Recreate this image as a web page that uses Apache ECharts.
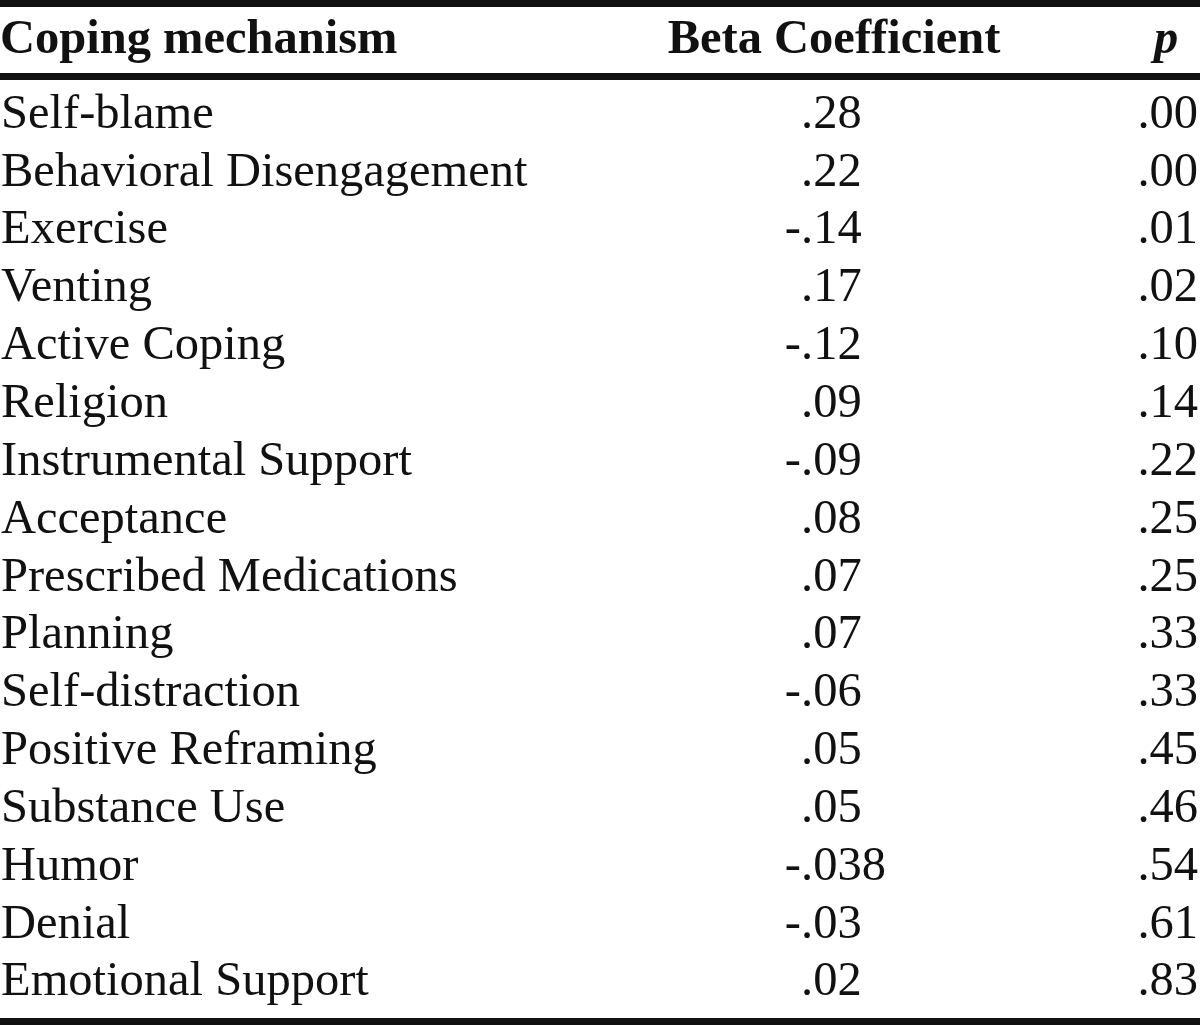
<!DOCTYPE html>
<html>
<head>
<meta charset="utf-8">
<script src="https://cdn.jsdelivr.net/npm/echarts@6/dist/echarts.min.js"></script>
<style>html,body{margin:0;padding:0;background:#fff}#c{width:1200px;height:1026px}</style>
</head>
<body>
<div id="c"></div>
<script>
// ---- data ----
var headers = ['Coping mechanism', 'Beta Coefficient', 'p'];
var mechanisms = ['Self-blame', 'Behavioral Disengagement', 'Exercise', 'Venting', 'Active Coping',
  'Religion', 'Instrumental Support', 'Acceptance', 'Prescribed Medications', 'Planning',
  'Self-distraction', 'Positive Reframing', 'Substance Use', 'Humor', 'Denial', 'Emotional Support'];
var beta = [0.28, 0.22, -0.14, 0.17, -0.12, 0.09, -0.09, 0.08, 0.07, 0.07, -0.06, 0.05, 0.05, -0.038, -0.03, 0.02];
var pValues = [0.00, 0.00, 0.01, 0.02, 0.10, 0.14, 0.22, 0.25, 0.25, 0.33, 0.33, 0.45, 0.46, 0.54, 0.61, 0.83];

// ---- layout ----
var W = 1200, H = 1026;
var rowPx = 57.85, firstRowPx = 115;
var yMin = -firstRowPx / rowPx, yMax = (H - firstRowPx) / rowPx;
var headerRow = (40 - firstRowPx) / rowPx;
var rules = [{ y: (3.5 - firstRowPx) / rowPx }, { y: (76.5 - firstRowPx) / rowPx }, { y: (1021.5 - firstRowPx) / rowPx }];
var colName = 1, colDot = 801, colP = 1198, colBetaHead = 834, colPHead = 1166;
var FONT = '"Liberation Serif","Times New Roman",serif';
var INK = '#111';
var FS = 48.5;

function fmtBeta(v) { return String(v).replace('0.', '.'); }
function fmtP(v) { return v.toFixed(2).replace(/^0/, ''); }

function textSeries(data, align, opts) {
  opts = opts || {};
  return {
    type: 'scatter', symbolSize: 0, silent: true, animation: false,
    itemStyle: { opacity: 1 },
    data: data,
    label: Object.assign({
      show: true, position: 'inside', align: align, verticalAlign: 'middle',
      fontFamily: FONT, fontSize: FS, color: INK, opacity: 1,
      formatter: function (p) { return p.data.t; }
    }, opts)
  };
}

var nameData = mechanisms.map(function (m, i) { return { value: [colName, i], t: m }; });
var fracData = beta.map(function (b, i) { return { value: [colDot, i], t: fmtBeta(Math.abs(b)) }; });
var signData = beta.map(function (b, i) { return { value: [colDot, i], t: b < 0 ? '-' : '' }; });
var pData = pValues.map(function (p, i) { return { value: [colP, i], t: fmtP(p) }; });

var series = [
  textSeries([{ value: [0, headerRow], t: headers[0] }], 'left', { fontWeight: 'bold' }),
  textSeries([{ value: [colBetaHead, headerRow], t: headers[1] }], 'center', { fontWeight: 'bold' }),
  textSeries([{ value: [colPHead, headerRow], t: headers[2] }], 'center', { fontWeight: 'bold', fontStyle: 'italic' }),
  textSeries(nameData, 'left'),
  textSeries(fracData, 'left'),
  textSeries(signData, 'right'),
  textSeries(pData, 'right')
];
series[0].markLine = {
  silent: true, symbol: ['none', 'none'], animation: false,
  label: { show: false },
  lineStyle: { color: '#111', width: 7, type: 'solid', opacity: 1 },
  data: rules.map(function (r) { return { yAxis: r.y }; })
};

var chart = echarts.init(document.getElementById('c'), null, { renderer: 'canvas' });
chart.setOption({
  backgroundColor: '#fff',
  animation: false,
  grid: { left: 0, right: 0, top: 0, bottom: 0, containLabel: false },
  xAxis: { type: 'value', min: 0, max: W, show: false },
  yAxis: { type: 'value', min: yMin, max: yMax, inverse: true, show: false },
  series: series
});
</script>
</body>
</html>
